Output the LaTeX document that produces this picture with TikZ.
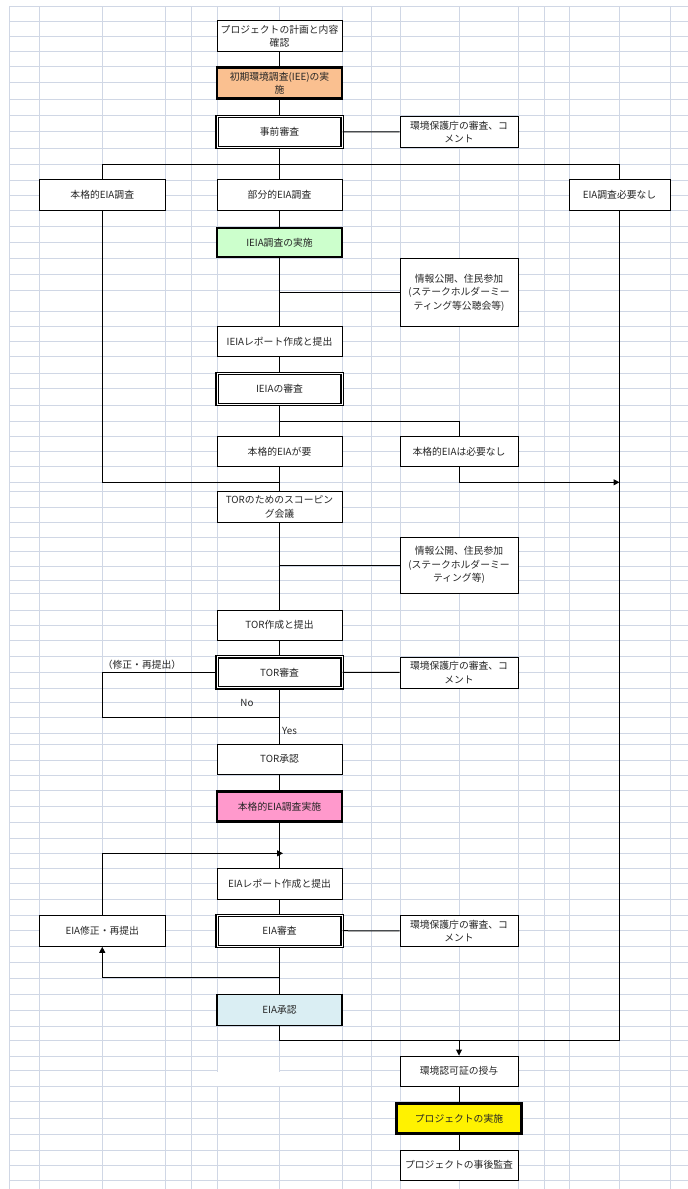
\documentclass[tikz,border=0pt]{standalone}
\usepackage{fontspec}
\setmainfont{Noto Sans CJK JP}
\usetikzlibrary{arrows.meta}
\definecolor{gridc}{HTML}{D0D7E5}
\definecolor{ieec}{HTML}{FAC090}
\definecolor{ieiac}{HTML}{CCFFCC}
\definecolor{fullc}{HTML}{FF99CC}
\definecolor{okc}{HTML}{DAEEF3}
\definecolor{txtc}{HTML}{262626}
\begin{document}
\begin{tikzpicture}[x=1pt, y=-1pt,
		box/.style = {shape=rectangle, draw, line width=1pt, fill=white, align=center, inner sep=1pt,
			minimum width=125pt, minimum height=31pt, text=txtc, font=\fontsize{9.8}{13.5}\selectfont},
		rbox/.style = {box, minimum width=118pt},
		thick box/.style = {box, line width=2.8pt},
		dbl box/.style = {box, double, line width=1.2pt, double distance=1pt},
		conn/.style = {line width=1pt},
		arr/.style = {conn, -{Triangle[length=6pt, width=6pt]}},
		lbl/.style = {text=txtc, font=\fontsize{9.8}{12}\selectfont, inner sep=0pt}]
	\fill[white] (0,0) rectangle (688,1189);
	\useasboundingbox (0,0) rectangle (688,1189);
	% spreadsheet grid
	\foreach \x in {9.5,39.5,102,165,191,217,279.5,342,371,400,459,518,544,569,619.5,670}
		\draw[gridc, line width=0.9pt] (\x,6) -- (\x,1189);
	\foreach \y in {6,21,36,51.7,66.7,82.7,99.3,115,131.7,148.3,164.3,180,195,210.7,226.7,242.7,258.3,274,290,311.7,326.7,
			341.7,356.7,373,388.3,405,421.7,436.7,451.7,466.7,482.3,491.7,507.7,522.3,537.3,551.7,566.7,580,593.3,610,625,640,
			656,672.7,688.3,702.7,717.7,733.3,744.3,760,775,790,806.7,822.7,838.3,853.3,868.3,883.3,899,915,930,946.7,962.7,
			978.3,994,1010,1026,1040.7,1056,1070.7,1086,1101.7,1118.3,1134.3,1150,1165.7,1180}
		\draw[gridc, line width=0.9pt] (9.5,\y) -- (688,\y);
	\fill[white] (218,1057) rectangle (278.5,1071.5);
	\fill[white] (215,1071.5) rectangle (281,1085.5);

	% main column
	\node[box] (plan) at (279.5,36.2) {プロジェクトの計画と内容\\確認};
	\node[thick box, fill=ieec, minimum height=31pt] (iee) at (279.5,83.3) {初期環境調査(IEE)の実\\施};
	\node[dbl box, minimum height=31pt] (pre) at (279.5,131.7) {事前審査};
	\node[rbox] (epa1) at (459,132) {環境保護庁の審査、コ\\メント};
	\node[box, minimum width=125.5pt] (full) at (102.25,195) {本格的EIA調査};
	\node[box] (part) at (279.5,195) {部分的EIA調査};
	\node[box, minimum width=101pt] (noeia) at (619.5,195) {EIA調査必要なし};
	\node[thick box, fill=ieiac, minimum height=29pt] (ieia) at (279.5,242.5) {IEIA調査の実施};
	\node[rbox, minimum height=68pt] (info1) at (459,292.5) {情報公開、住民参加\\(ステークホルダーミー\\ティング等公聴会等)};
	\node[box, minimum height=30pt] (ieiarep) at (279.5,341.7) {IEIAレポート作成と提出};
	\node[dbl box, minimum height=31pt] (ieiarev) at (279.5,389.2) {IEIAの審査};
	\node[box, minimum height=30pt] (need) at (279.5,451.7) {本格的EIAが要};
	\node[rbox, minimum height=30pt] (noneed) at (459,451.7) {本格的EIAは必要なし};
	\node[box, minimum height=30.6pt] (scope) at (279.5,507) {TORのためのスコーピン\\グ会議};
	\node[rbox, minimum height=56pt] (info2) at (459,565.3) {情報公開、住民参加\\(ステークホルダーミー\\ティング等)};
	\node[box, minimum height=30pt] (torprep) at (279.5,625) {TOR作成と提出};
	\node[dbl box, minimum height=31pt] (torrev) at (279.5,672.3) {TOR審査};
	\node[rbox] (epa2) at (459,672.5) {環境保護庁の審査、コ\\メント};
	\node[box, minimum height=30pt] (torok) at (279.5,759.3) {TOR承認};
	\node[thick box, fill=fullc, minimum height=30pt] (fulldo) at (279.5,806.3) {本格的EIA調査実施};
	\node[box, minimum height=30.7pt] (eiarep) at (279.5,883.7) {EIAレポート作成と提出};
	\node[dbl box, minimum height=31pt] (eiarev) at (279.5,930.7) {EIA審査};
	\node[rbox] (epa3) at (459,930.8) {環境保護庁の審査、コ\\メント};
	\node[box, minimum width=125.5pt] (eiafix) at (102.25,930.8) {EIA修正・再提出};
	\node[box, line width=1.8pt, fill=okc, minimum height=31pt] (eiaok) at (279.5,1010) {EIA承認};
	\node[rbox, minimum height=30pt] (permit) at (459,1071) {環境認可証の授与};
	\node[thick box, fill=yellow, minimum height=30pt] (impl) at (459,1118.3) {プロジェクトの実施};
	\node[rbox, minimum height=30pt] (audit) at (459,1165) {プロジェクトの事後監査};

	% junction points
	\coordinate (br1) at (279.5,164.3);
	\coordinate (br2) at (279.5,421.7);
	\coordinate (jn) at (279.5,482.3);
	\coordinate (jr) at (619.5,482.3);
	\coordinate (nl) at (102.25,717.7);
	\coordinate (nr) at (279.5,717.7);
	\coordinate (up) at (283,853.3);
	\coordinate (dn) at (279.5,977.7);
	\coordinate (mg) at (619.5,1040.7);

	% connectors
	\draw[conn] (plan) -- (iee);
	\draw[conn] (iee) -- (pre);
	\draw[conn] (pre) -- (epa1);
	\draw[conn] (pre) -- (part);
	\draw[conn] (full.north) |- (br1) -| (noeia.north);
	\draw[conn] (part) -- (ieia);
	\draw[conn] (ieia) -- (ieiarep);
	\draw[conn] (info1.west) -- (info1.west -| ieia);
	\draw[conn] (ieiarep) -- (ieiarev);
	\draw[conn] (ieiarev) -- (need);
	\draw[conn] (br2) -| (noneed.north);
	\draw[conn] (full.south) |- (jn);
	\draw[arr] (noneed.south) |- (jr);
	\draw[conn] (need) -- (scope);
	\draw[conn] (scope) -- (torprep);
	\draw[conn] (info2.west) -- (info2.west -| scope);
	\draw[conn] (torprep) -- (torrev);
	\draw[conn] (torrev) -- (epa2);
	\draw[conn] (torrev.west) -| (nl) -- (nr);
	\draw[conn] (torrev) -- (torok);
	\draw[conn] (torok) -- (fulldo);
	\draw[conn] (fulldo) -- (eiarep);
	\draw[arr] (eiafix.north) |- (up);
	\draw[conn] (eiarep) -- (eiarev);
	\draw[conn] (eiarev) -- (epa3);
	\draw[conn] (eiarev) -- (eiaok);
	\draw[arr] (dn) -| (eiafix.south);
	\draw[conn] (eiaok.south) |- (mg) -- (noeia.south);
	\draw[arr] (permit.north |- mg) -- (permit.north);
	\draw[conn] (permit) -- (impl);
	\draw[conn] (impl) -- (audit);

	% labels
	\node[lbl] (redo) at (142,665) {（修正・再提出）};
	\node[lbl] (no) at (247,702.7) {No};
	\node[lbl] (yes) at (289.5,730.7) {Yes};
\end{tikzpicture}
\end{document}
